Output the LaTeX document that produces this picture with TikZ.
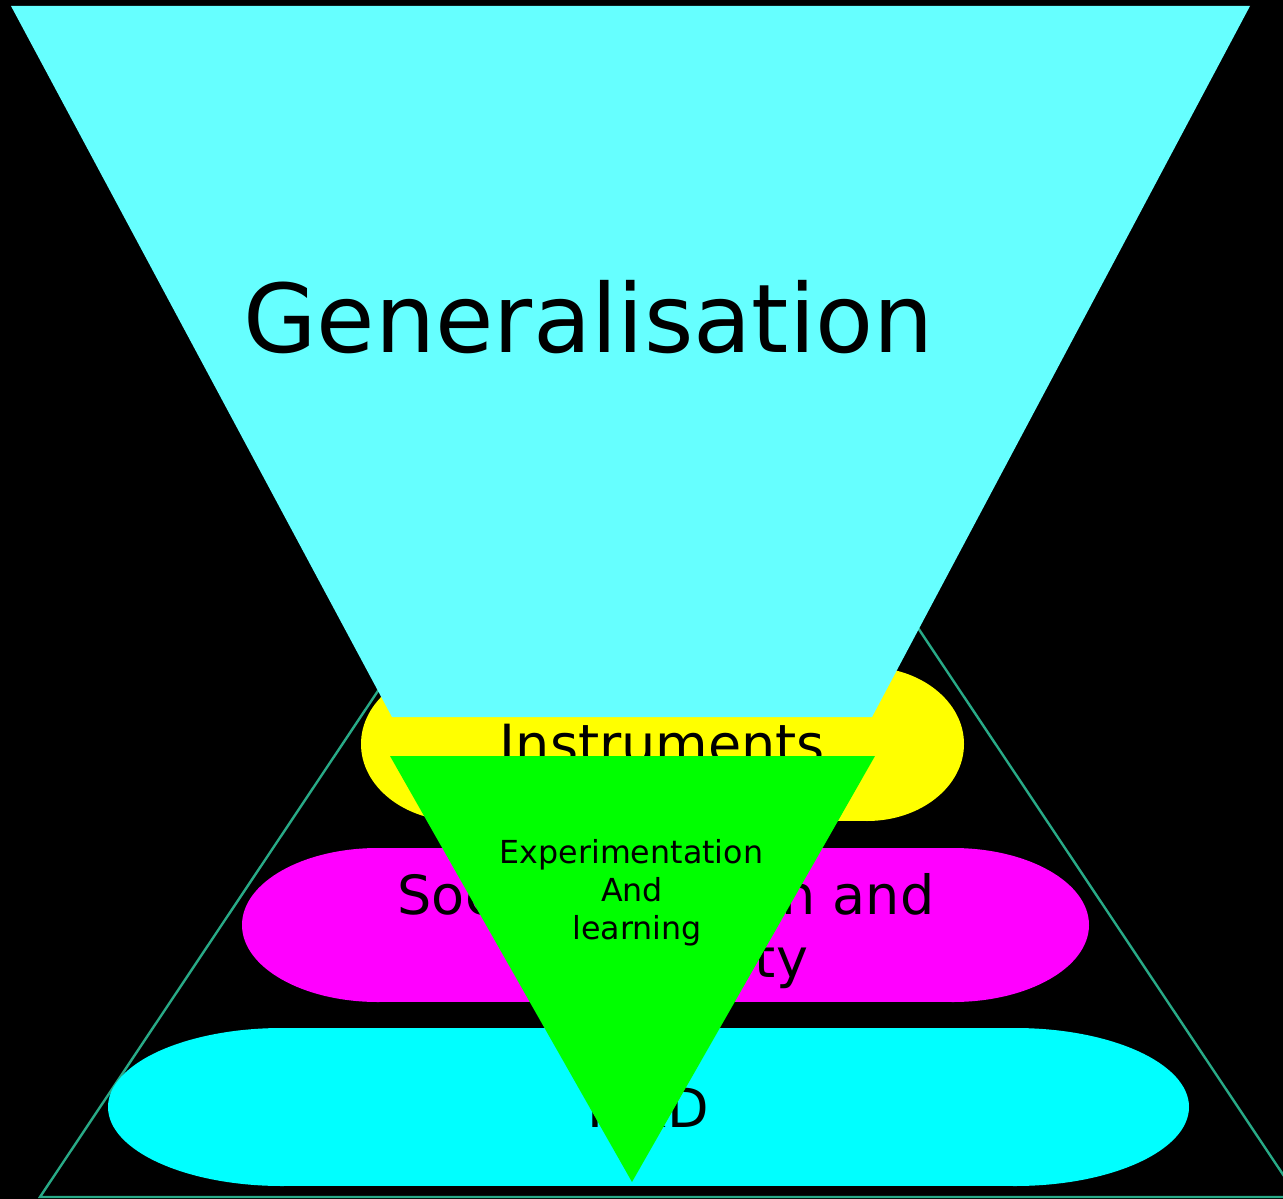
\documentclass[tikz,border=0pt]{standalone}
\usepackage{fontspec}
\setmainfont{DejaVu Sans}
\definecolor{tealline}{RGB}{40,170,135}
\definecolor{lcyan}{RGB}{102,255,255}
\definecolor{ycol}{RGB}{255,255,0}
\definecolor{mcol}{RGB}{255,0,255}
\definecolor{ccol}{RGB}{0,255,255}
\definecolor{gcol}{RGB}{0,255,0}
\begin{document}
\begin{tikzpicture}[x=1pt,y=-1pt,
  lbl/.style={inner sep=0pt, outer sep=0pt, anchor=base, text=black},
  bigtxt/.style={lbl, font=\fontsize{95}{114}\selectfont},
  midtxt/.style={lbl, font=\fontsize{54}{64}\selectfont},
  smalltxt/.style={lbl, font=\fontsize{31.7}{38}\selectfont}]
\useasboundingbox (0,0) rectangle (1283,1199);
\clip (0,0) rectangle (1283,1199);
\fill[black] (0,0) rectangle (1283,1199);
% outline pyramid
\coordinate (apex) at (669,255);
\coordinate (bl) at (40,1197);
\coordinate (br) at (1298,1197);
\draw[tealline, line width=2.4pt] (apex) -- (bl) -- (br) -- cycle;
% yellow terminator
\fill[ycol] (458,667) rectangle (867,821);
\fill[ycol] (458,744) ellipse [x radius=97, y radius=77];
\fill[ycol] (867,744) ellipse [x radius=97, y radius=77];
\node[midtxt] (instr) at (662.5,763.5) {Instruments};
% magenta terminator
\fill[mcol] (378,848) rectangle (953,1002);
\fill[mcol] (378,925) ellipse [x radius=136, y radius=77];
\fill[mcol] (953,925) ellipse [x radius=136, y radius=77];
\node[midtxt] (soc1) at (666,914) {Social cohesion and};
\node[midtxt, anchor=base east] (soc2) at (808,977) {diversity};
% cyan terminator
\fill[ccol] (282,1028) rectangle (1015,1186);
\fill[ccol] (282,1107) ellipse [x radius=174, y radius=79];
\fill[ccol] (1015,1107) ellipse [x radius=174, y radius=79];
\node[midtxt] (rd) at (648.5,1127) {R\&D};
% generalisation funnel
\fill[lcyan] (11,6) -- (1250,6) -- (872,717) -- (392,717) -- cycle;
\node[bigtxt] (gen) at (588.5,352) {Generalisation};
% experimentation triangle
\fill[gcol] (390,756) -- (875,756) -- (632,1182) -- cycle;
\node[smalltxt] (exp1) at (631.5,863) {Experimentation};
\node[smalltxt] (exp2) at (632,901) {And};
\node[smalltxt] (exp3) at (637,939) {learning};
\end{tikzpicture}
\end{document}
